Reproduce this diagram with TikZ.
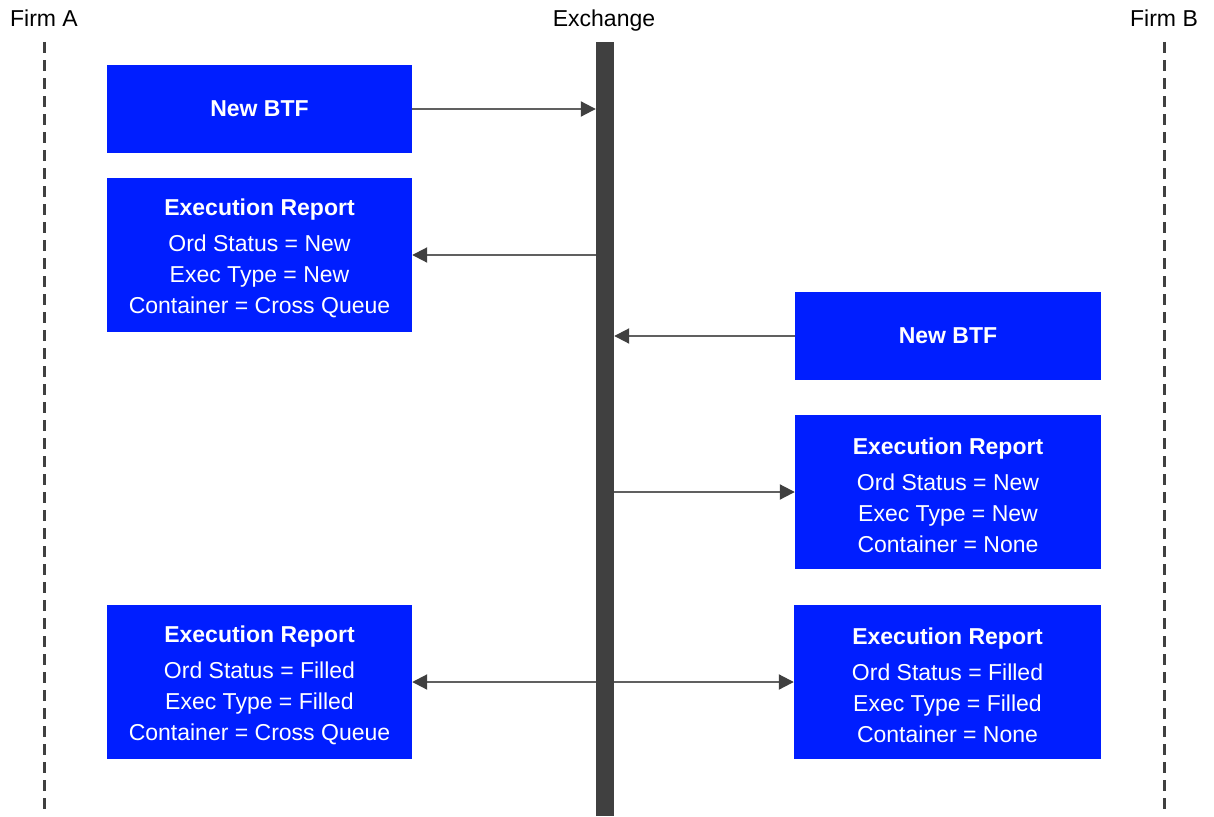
\documentclass[tikz,border=0pt]{standalone}
\usepackage{fontspec}
\setmainfont{Liberation Sans}
\usepackage{tikz}
\usetikzlibrary{calc,arrows.meta}
\definecolor{boxblue}{RGB}{0,30,255}
\definecolor{bardark}{RGB}{64,64,64}
\definecolor{linegray}{RGB}{96,96,96}
\newcommand{\rtitle}{\rule{0pt}{23pt}\textbf{Execution Report}\\[5pt]}

\begin{document}
\begin{tikzpicture}[x=1pt,y=-1pt,
    txt/.style={font=\fontsize{23}{31}\selectfont,inner sep=0pt,anchor=base},
    msgbox/.style={fill=boxblue,text=white,minimum width=305pt,minimum height=88pt,
      inner sep=0pt,font=\fontsize{23}{31}\selectfont\bfseries},
    report/.style={fill=boxblue,text=white,minimum width=305pt,minimum height=154pt,
      inner sep=0pt,align=center,font=\fontsize{23}{31}\selectfont},
    lifeline/.style={draw=bardark,line width=3pt,dash pattern=on 11pt off 7pt},
    msg/.style={draw=linegray,line width=2pt,-{Triangle[length=15pt,width=15pt,fill=bardark,color=bardark]}},
    both/.style={draw=linegray,line width=2pt,
      {Triangle[length=15pt,width=15pt,fill=bardark,color=bardark]}-{Triangle[length=15pt,width=15pt,fill=bardark,color=bardark]}}]
      \useasboundingbox (0,0) rectangle (1214,816);
      % lanes
      \node[txt](fa) at (44,27) {Firm A};
      \node[txt](ex) at (604,27) {Exchange};
      \node[txt](fb) at (1164,27) {Firm B};
      \coordinate(fatop) at (44,42);
      \coordinate(fabot) at (44,816);
      \coordinate(fbtop) at (1164,42);
      \coordinate(fbbot) at (1164,816);
      \draw[lifeline](fatop)--(fabot);
      \draw[lifeline](fbtop)--(fbbot);
      % firm A side
      \node[msgbox](newa) at (259.5,109) {New BTF};
      \node[report](repa) at (259.5,255) {\rtitle Ord Status = New\\Exec Type = New\\Container = Cross Queue};
      \node[report](filla) at (259.5,682) {\rtitle Ord Status = Filled\\Exec Type = Filled\\Container = Cross Queue};
      % firm B side
      \node[msgbox,minimum width=306pt](newb) at (948,336) {New BTF};
      \node[report,minimum width=306pt](repb) at (948,492) {\rtitle Ord Status = New\\Exec Type = New\\Container = None};
      \node[report,minimum width=307pt](fillb) at (947.5,682) {\rtitle Ord Status = Filled\\Exec Type = Filled\\Container = None};
      % fill goes out to both
      \draw[both](filla)--(fillb);
      % exchange
      \node[fill=bardark,minimum width=18pt,minimum height=774pt,inner sep=0pt](xch) at (605,429) {};
      \draw[msg](newa)--(newa-|xch.west);
      \draw[msg](repa-|xch.west)--(repa);
      \draw[msg](newb)--(newb-|xch.east);
      \draw[msg](repb-|xch.east)--(repb);
\end{tikzpicture}
\end{document}
